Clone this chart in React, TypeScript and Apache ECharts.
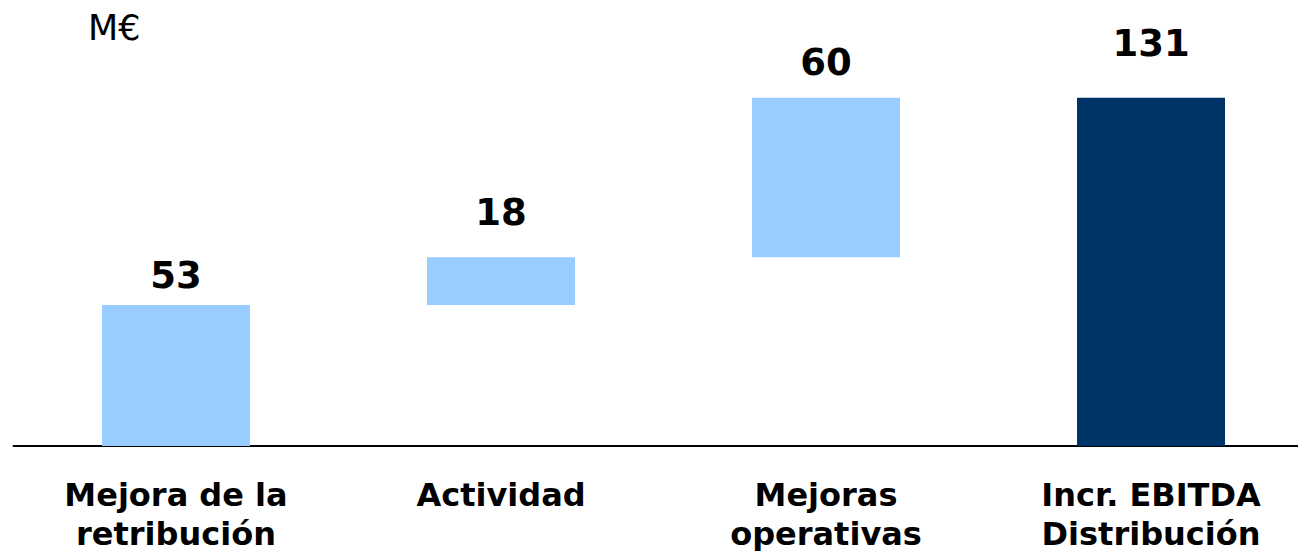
import React, { useEffect, useRef } from "react";
import * as echarts from "echarts";

const categories = ["Mejora de la\nretribución", "Actividad", "Mejoras\noperativas", "Incr. EBITDA\nDistribución"];
const values = [53, 18, 60, 131];
const isTotal = [false, false, false, true];
const labelDistances = [11, 26, 17, 36];
const unitLabel = "M€";

const FONT = "'DejaVu Sans', Verdana, sans-serif";

export default function App() {
  const ref = useRef<HTMLDivElement>(null);
  useEffect(() => {
    if (!ref.current) return;
    const chart = echarts.init(ref.current, null, { renderer: "svg" });
    const bases: number[] = [];
    let run = 0;
    values.forEach((v, i) => {
      if (isTotal[i]) {
        bases.push(0);
      } else {
        bases.push(run);
        run += v;
      }
    });
    chart.setOption({
      animation: false,
      grid: {
        left: 13.5,
        width: 1300,
        top: 97.7,
        bottom: 105,
        containLabel: false,
        outerBoundsMode: "none",
      },
      xAxis: {
        type: "category",
        data: categories,
        axisLine: { show: true, lineStyle: { color: "#000", width: 2 } },
        axisTick: { show: false },
        axisLabel: {
          interval: 0,
          margin: 29,
          color: "#000",
          fontFamily: FONT,
          fontWeight: "bold",
          fontSize: 32,
          lineHeight: 39,
        },
      },
      yAxis: { type: "value", min: 0, max: 131, show: false, splitLine: { show: false } },
      graphic: [
        {
          type: "text",
          x: 88,
          y: 28,
          style: { text: unitLabel, fontFamily: FONT, fontSize: 35, fill: "#000", verticalAlign: "middle" },
        },
      ],
      series: [
        {
          type: "bar",
          stack: "w",
          barWidth: 148,
          silent: true,
          itemStyle: { color: "transparent" },
          data: bases,
        },
        {
          type: "bar",
          stack: "w",
          barWidth: 148,
          data: values.map((v, i) => ({
            value: v,
            itemStyle: { color: isTotal[i] ? "#003366" : "#99CCFF" },
            label: { distance: labelDistances[i] },
          })),
          label: {
            show: true,
            position: "top",
            color: "#000",
            fontFamily: FONT,
            fontWeight: "bold",
            fontSize: 37,
          },
        },
      ],
    });
    return () => chart.dispose();
  }, []);
  return <div ref={ref} style={{ position: "absolute", left: 0, top: 0, width: 1298, height: 551 }} />;
}
